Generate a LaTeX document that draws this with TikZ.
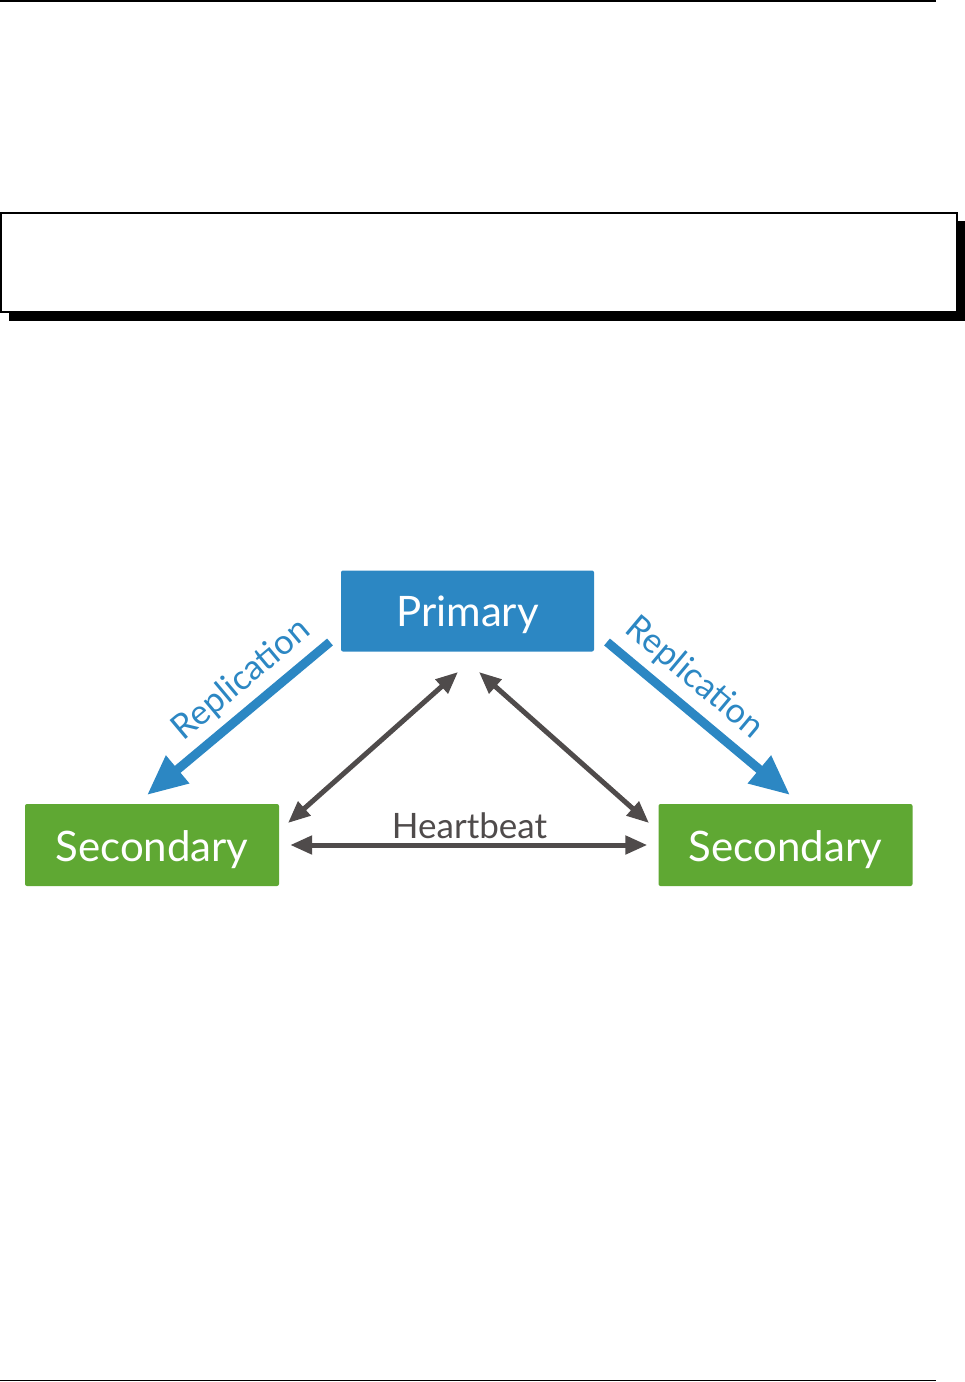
\documentclass[tikz,border=0pt]{standalone}
\usepackage{fontspec}
\usepackage{tikz}
\usetikzlibrary{positioning}
\usetikzlibrary{arrows.meta}
\newfontfamily\gillFont{Lato}
\definecolor{primaryColor}{rgb}{0.173,0.529,0.765}
\definecolor{secondaryColor}{rgb}{0.373,0.659,0.2}
\definecolor{beatColor}{rgb}{0.31,0.294,0.294}

\begin{document}
\begin{tikzpicture}[x=1pt,y=-1pt]

          \tikzstyle{primaryNode} = [fill=primaryColor, text=white, rounded corners=2pt, minimum width=253pt, minimum height=81pt, inner sep=0pt, text height=33pt, text depth=2pt, font=\gillFont\fontsize{42}{48}\selectfont];
          \tikzstyle{secondaryNode} = [fill=secondaryColor, text=white, rounded corners=2pt, minimum width=254pt, minimum height=82pt, inner sep=0pt, text height=35pt, text depth=2pt, font=\gillFont\fontsize{42}{50}\selectfont];
          \tikzstyle{replLabel} = [primaryColor, inner sep=0pt, font=\gillFont\fontsize{34.5}{40}\selectfont];
          \tikzstyle{beatLabel} = [beatColor, inner sep=0pt, anchor=base, font=\gillFont\fontsize{35}{40}\selectfont];

          \tikzstyle{replEdge} = [primaryColor, line width=9pt, -{Triangle[length=40pt,width=34pt]}];
          \tikzstyle{beatEdge} = [beatColor, line width=5pt, {Triangle[length=22pt,width=18pt]}-{Triangle[length=22pt,width=18pt]}];

          \useasboundingbox (0,0) rectangle (965,1382);

          % page rules and the empty shadowed frame
          \draw[line width=1.2pt] (0,1) -- (936,1);
          \draw[line width=1.2pt] (0,1380.5) -- (936,1380.5);
          \fill[black] (9,221) rectangle (965,320.7);
          \draw[fill=white, line width=1.2pt] (1,213) rectangle (957,312);

          \node[primaryNode] (prim) at (467.5,611) {Primary};
          \node[secondaryNode] (secL) at (152,845) {Secondary};
          \node[secondaryNode] (secR) at (785.5,845) {Secondary};

          \coordinate (replLs) at (330,642);
          \coordinate (replLe) at (147,795);
          \coordinate (replRs) at (607,642);
          \coordinate (replRe) at (790,795);
          \coordinate (beatLt) at (458,672);
          \coordinate (beatLb) at (288,823);
          \coordinate (beatRt) at (479,672);
          \coordinate (beatRb) at (649,823);

          \draw[replEdge] (replLs) -- (replLe);
          \draw[replEdge] (replRs) -- (replRe);
          \draw[beatEdge] (beatLt) -- (beatLb);
          \draw[beatEdge] (beatRt) -- (beatRb);
          \draw[beatEdge, shorten <=11pt, shorten >=11pt] (secL) -- (secR);

          \node[replLabel, rotate=40] (replL) at (242,680) {Replication};
          \node[replLabel, rotate=-40] (replR) at (694,678) {Replication};
          \node[beatLabel] (beat) at (469.5,838) {Heartbeat};
        \end{tikzpicture}
\end{document}
